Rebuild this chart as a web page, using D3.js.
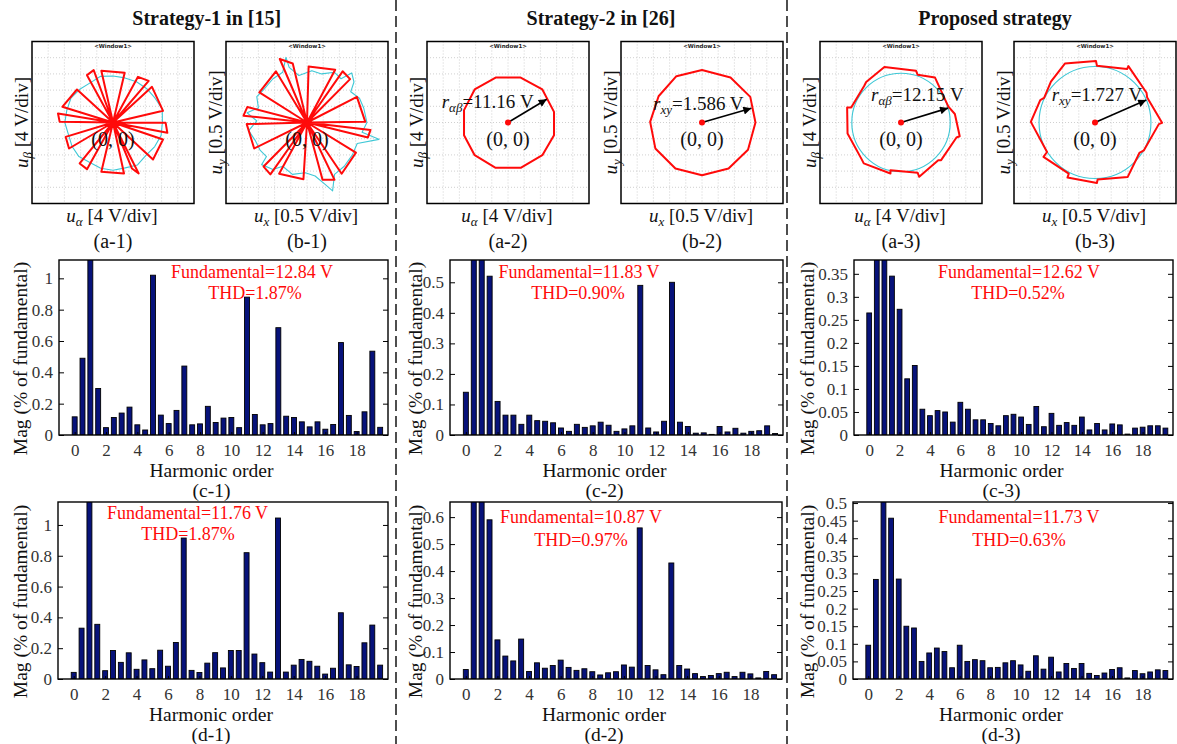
<!DOCTYPE html>
<html>
<head>
<meta charset="utf-8">
<script src="https://cdn.jsdelivr.net/npm/d3@7"></script>
<style>
  body { margin: 0; background: #fff; }
  svg text { font-family: "Liberation Serif", "Times New Roman", Times, serif; }
</style>
</head>
<body>
<svg id="fig" width="1177" height="744"></svg>
<script>
// ---------------- data ----------------
const strategyTitles = ["Strategy-1 in [15]", "Strategy-2 in [26]", "Proposed strategy"];

// harmonic spectra (% of fundamental), orders 0..19.5 in steps of 0.5
const orders = [0,0.5,1,1.5,2,2.5,3,3.5,4,4.5,5,5.5,6,6.5,7,7.5,8,8.5,9,9.5,
                10,10.5,11,11.5,12,12.5,13,13.5,14,14.5,15,15.5,16,16.5,17,17.5,18,18.5,19,19.5];
const xTicks = [0,2,4,6,8,10,12,14,16,18];

const magC1 = [0.116,0.49,100,0.297,0.047,0.112,0.14,0.178,0.065,0.032,1.02,0.127,0.073,0.157,0.44,0.065,0.071,0.183,0.08,0.108,
               0.112,0.047,0.88,0.131,0.065,0.073,0.685,0.12,0.112,0.084,0.052,0.084,0.037,0.067,0.59,0.125,0.022,0.148,0.535,0.049];
const magC2 = [0.14,0.62,100,0.52,0.11,0.065,0.065,0.035,0.065,0.047,0.045,0.04,0.023,0.012,0.035,0.025,0.03,0.042,0.032,0.012,
               0.02,0.03,0.49,0.023,0.01,0.045,0.5,0.042,0.028,0.006,0.007,0.002,0.028,0.01,0.022,0.006,0.012,0.014,0.03,0.005];
const magC3 = [0.265,0.42,100,0.345,0.273,0.122,0.151,0.056,0.042,0.053,0.05,0.028,0.071,0.056,0.033,0.033,0.025,0.02,0.042,0.045,
               0.039,0.023,0.062,0.018,0.047,0.021,0.027,0.021,0.039,0.011,0.025,0.011,0.024,0.022,0.002,0.015,0.017,0.02,0.02,0.015];
const magD1 = [0.043,0.33,100,0.355,0.054,0.185,0.108,0.17,0.063,0.124,0.067,0.187,0.083,0.237,0.915,0.056,0.042,0.103,0.171,0.072,
               0.185,0.185,0.82,0.162,0.106,0.045,1.045,0.045,0.09,0.127,0.115,0.083,0.032,0.07,0.43,0.092,0.081,0.235,0.35,0.09];
const magD2 = [0.035,0.7,100,0.59,0.145,0.085,0.067,0.148,0.028,0.06,0.04,0.05,0.07,0.043,0.032,0.038,0.027,0.015,0.023,0.027,
               0.052,0.044,0.56,0.05,0.034,0.016,0.43,0.05,0.037,0.02,0.009,0.013,0.02,0.025,0.009,0.025,0.019,0.004,0.028,0.016];
const magD3 = [0.096,0.283,100,0.457,0.284,0.15,0.145,0.05,0.074,0.088,0.078,0.032,0.096,0.05,0.055,0.052,0.032,0.033,0.046,0.052,
               0.04,0.022,0.066,0.028,0.062,0.02,0.044,0.03,0.044,0.016,0.01,0.017,0.027,0.032,0.003,0.024,0.015,0.02,0.026,0.024];

const yTicksC1 = [0,0.2,0.4,0.6,0.8,1];
const yTicksC2 = [0,0.1,0.2,0.3,0.4,0.5];
const yTicksC3 = [0,0.05,0.1,0.15,0.2,0.25,0.3,0.35];
const yTicksD1 = [0,0.2,0.4,0.6,0.8,1];
const yTicksD2 = [0,0.1,0.2,0.3,0.4,0.5,0.6];
const yTicksD3 = [0,0.05,0.1,0.15,0.2,0.25,0.3,0.35,0.4,0.45,0.5];
const yMaxC = [1.117, 0.573, 0.38];
const yMaxD = [1.149, 0.656, 0.503];

const fundamentalC = ["Fundamental=12.84 V", "Fundamental=11.83 V", "Fundamental=12.62 V"];
const thdC = ["THD=1.87%", "THD=0.90%", "THD=0.52%"];
const fundamentalD = ["Fundamental=11.76 V", "Fundamental=10.87 V", "Fundamental=11.73 V"];
const thdD = ["THD=1.87%", "THD=0.97%", "THD=0.63%"];

// voltage trajectories (V): wedges are [x1, y1, x2, y2] reached from the origin
const wedgesA1 = [
  [-2.88,12.76, 2.88,12.26], [-6.42,11.69, -4.77,12.92], [6.17,11.28, 8.81,10.29],
  [9.63,8.81, 12.35,2.88], [13.0,-0.08, 13.42,-2.55], [12.35,-4.2, 9.88,-9.14],
  [4.69,-11.36, 6.34,-12.59], [2.72,-12.59, -2.88,-12.18], [-6.42,-11.52, -8.23,-10.12],
  [-11.69,-3.54, -10.86,-6.42], [-13.58,2.22, -13.17,0.16], [-12.51,3.87, -8.89,8.15]
];
// [angle (deg), radius (V)]
const cyanA1 = [[0,12.2],[15,12.6],[30,12.0],[45,11.8],[60,11.6],[75,11.4],[90,11.5],[105,11.8],
                [120,11.3],[135,11.6],[150,12.0],[165,11.8],[180,11.9],[195,11.4],[210,11.7],[225,11.9],
                [240,11.4],[255,11.7],[270,11.8],[285,11.6],[300,12.1],[315,11.5],[330,11.9],[345,12.3]];
const wedgesB1 = [
  [-0.84,1.96, -0.44,1.82], [0.05,1.73, 0.87,1.63], [1.10,1.58, 1.33,1.34],
  [-1.47,0.93, -0.96,1.58], [1.54,0.79, 1.80,0.02], [-1.96,0.21, -1.84,0.48],
  [-1.86,-0.05, -1.63,-0.80], [1.96,-0.23, 1.88,-0.46], [1.51,-0.93, 1.07,-1.58],
  [0.48,-1.77, 0.85,-1.77], [-0.86,-1.58, -0.11,-1.75], [-1.34,-1.36, -1.13,-1.60]
];
const cyanB1 = [[1.85,0.0],[1.75,0.45],[1.62,0.75],[1.35,0.95],[1.45,1.25],[1.38,1.53],[1.05,1.35],[0.85,1.55],
                [0.45,1.50],[0.15,1.60],[-0.25,1.45],[-0.55,1.70],[-0.65,2.01],[-0.75,1.55],[-1.05,1.35],[-1.35,1.0],
                [-1.55,0.80],[-1.50,0.45],[-1.85,0.30],[-1.55,0.05],[-1.80,-0.25],[-1.60,-0.55],[-1.45,-0.85],[-1.25,-1.05],
                [-1.40,-1.30],[-1.05,-1.45],[-0.75,-1.35],[-0.45,-1.60],[-0.05,-1.55],[0.25,-1.65],[0.55,-1.90],[0.79,-2.11],
                [0.85,-1.60],[1.15,-1.35],[1.40,-1.00],[1.55,-0.65],[2.22,-0.52],[1.70,-0.30]];
const polyA2 = [[-3.05,11.1],[3.13,11.1],[8.48,8.15],[11.36,2.63],[11.36,-3.13],[8.48,-8.07],
                [3.13,-11.2],[-3.05,-11.2],[-8.23,-8.07],[-10.86,-3.13],[-10.86,3.05],[-8.23,8.15]];
const polyB2 = [[0,1.62],[-0.79,1.43],[-1.34,0.81],[-1.60,0.02],[-1.44,-0.80],[-0.82,-1.42],
                [0,-1.63],[0.82,-1.42],[1.42,-0.84],[1.65,0],[1.49,0.79],[0.88,1.39]];
const polyA3 = [[-4.1,13.7],[3.7,12.8],[4.1,11.8],[8.4,11.1],[11.7,3.9],[13.3,2.1],[14.5,-3.4],[13.7,-3.7],
                [9.9,-9.3],[9.2,-9.3],[4.5,-13.4],[4.1,-12.4],[-2.6,-11.8],[-2.6,-12.6],[-9.2,-10.1],[-9.7,-9.1],
                [-13.2,-2.7],[-13.3,3.7],[-12.3,3.7],[-9.1,9.0],[-8.6,10.0]];
const polyB3 = [[-0.93,1.82],[0.03,1.90],[0.06,1.75],[0.99,1.65],[1.03,1.74],[1.59,0.92],[1.61,0.77],[2.07,-0.01],
                [1.97,-0.05],[1.51,-0.86],[1.37,-0.94],[1.01,-1.68],[0.08,-1.76],[0.06,-1.87],[-0.85,-1.70],[-0.81,-1.58],
                [-1.59,-1.06],[-1.48,-0.91],[-1.98,0.02],[-1.69,0.69],[-1.57,0.76],[-1.36,1.26]];

// circle radii stated on the plots and the direction of each radius arrow
const radiusValues = [11.16, 1.586, 12.15, 1.727];
const radiusNames = ["αβ", "xy", "αβ", "xy"];
const arrowAngles = [31, 16, 17, 23.6];

const gridA = [-16,-12,-8,-4,0,4,8,12,16];
const gridB = [-2,-1.5,-1,-0.5,0,0.5,1,1.5,2];

// ---------------- drawing ----------------
const svg = d3.select("#fig");
const defs = svg.append("defs");
defs.append("marker").attr("id", "arrowhead")
  .attr("viewBox", "0 0 10 10").attr("refX", 10).attr("refY", 5)
  .attr("markerWidth", 11).attr("markerHeight", 8).attr("markerUnits", "userSpaceOnUse")
  .attr("orient", "auto")
  .append("path").attr("d", "M0,0 L10,5 L0,10 z").attr("fill", "#000");

const RED = "#ff0a0a", CYAN = "#3fc8d6", BAR_FILL = "#07127a", INK = "#111";

// column separators
[396, 787].forEach(x => svg.append("line")
  .attr("x1", x).attr("x2", x).attr("y1", 0).attr("y2", 744)
  .attr("stroke", "#222").attr("stroke-width", 1.6).attr("stroke-dasharray", "11,5"));

// column titles
[206.7, 601, 995].forEach((cx, i) => svg.append("text")
  .attr("x", cx).attr("y", 25).attr("text-anchor", "middle")
  .attr("font-size", 20).attr("font-weight", "bold").attr("fill", INK)
  .text(strategyTitles[i]));

function addRich(sel, parts) {
  parts.forEach(p => {
    const t = sel.append("tspan").text(p.t);
    if (p.i) t.attr("font-style", "italic");
    if (p.s) t.attr("font-size", p.s);
    if (p.dy) t.attr("dy", p.dy);
  });
}

// ---- trajectory panels ----
const SIZE = 162, PY0 = 41.5;
const polarPanels = [
  { x0: 32,   span: 20,  grid: gridA, sub: ["α","β"], div: "4",   cap: "(a-1)" },
  { x0: 226,  span: 2.5, grid: gridB, sub: ["x","y"], div: "0.5", cap: "(b-1)" },
  { x0: 427,  span: 20,  grid: gridA, sub: ["α","β"], div: "4",   cap: "(a-2)", k: 0, tx: 14.7, ty: 108 },
  { x0: 621,  span: 2.5, grid: gridB, sub: ["x","y"], div: "0.5", cap: "(b-2)", k: 1, tx: 32,   ty: 110 },
  { x0: 820,  span: 20,  grid: gridA, sub: ["α","β"], div: "4",   cap: "(a-3)", k: 2, tx: 51,   ty: 101 },
  { x0: 1014, span: 2.5, grid: gridB, sub: ["x","y"], div: "0.5", cap: "(b-3)", k: 3, tx: 37.7, ty: 101 }
];
const trajLine = d3.line();

polarPanels.forEach((p, idx) => {
  const g = svg.append("g");
  const sx = d3.scaleLinear().domain([-p.span, p.span]).range([p.x0, p.x0 + SIZE]);
  const sy = d3.scaleLinear().domain([-p.span, p.span]).range([PY0 + SIZE, PY0]);
  const pt = d => [sx(d[0]), sy(d[1])];
  const cx = sx(0), cy = sy(0);

  g.append("rect").attr("x", p.x0).attr("y", PY0).attr("width", SIZE).attr("height", SIZE).attr("fill", "#fff");
  g.selectAll("line.gv").data(p.grid).join("line")
    .attr("x1", d => sx(d)).attr("x2", d => sx(d)).attr("y1", PY0).attr("y2", PY0 + SIZE)
    .attr("stroke", "#c4c4c4").attr("stroke-width", 0.8).attr("stroke-dasharray", "1,2");
  g.selectAll("line.gh").data(p.grid).join("line")
    .attr("y1", d => sy(d)).attr("y2", d => sy(d)).attr("x1", p.x0).attr("x2", p.x0 + SIZE)
    .attr("stroke", "#c4c4c4").attr("stroke-width", 0.8).attr("stroke-dasharray", "1,2");
  g.append("text").attr("x", cx).attr("y", PY0 + 6.5).attr("text-anchor", "middle")
    .attr("font-size", 5.5).attr("font-weight", "bold").style("font-family", "DejaVu Sans, sans-serif")
    .attr("fill", "#222").text("<Window1>");

  const redStyle = s => s.attr("fill", "none").attr("stroke", RED).attr("stroke-width", 2).attr("stroke-linejoin", "round");
  const cyanStyle = s => s.attr("fill", "none").attr("stroke", CYAN).attr("stroke-width", 1.1).attr("stroke-linejoin", "round");

  if (idx === 0 || idx === 1) {
    const cyanPts = idx === 0
      ? cyanA1.map(([a, r]) => [r * Math.cos(a * Math.PI / 180), r * Math.sin(a * Math.PI / 180)])
      : cyanB1;
    g.append("path").attr("d", trajLine(cyanPts.map(pt)) + "Z").call(cyanStyle);
    const wedges = idx === 0 ? wedgesA1 : wedgesB1;
    const seq = [];
    wedges.forEach(w => { seq.push([0, 0], [w[0], w[1]], [w[2], w[3]]); });
    seq.push([0, 0]);
    g.append("path").attr("d", trajLine(seq.map(pt))).call(redStyle);
    g.append("text").attr("x", cx).attr("y", cy + 23).attr("text-anchor", "middle")
      .attr("font-size", 20).attr("fill", INK).text("(0, 0)");
  } else {
    const poly = [polyA2, polyB2, polyA3, polyB3][p.k];
    const r = radiusValues[p.k];
    if (p.k >= 2) {
      g.append("circle").attr("cx", cx).attr("cy", cy).attr("r", sx(r) - sx(0)).call(cyanStyle);
    }
    g.append("path").attr("d", trajLine(poly.map(pt)) + "Z").call(redStyle);
    const a = arrowAngles[p.k] * Math.PI / 180;
    g.append("line").attr("x1", cx).attr("y1", cy)
      .attr("x2", sx(r * Math.cos(a))).attr("y2", sy(r * Math.sin(a)))
      .attr("stroke", "#000").attr("stroke-width", 1.6).attr("marker-end", "url(#arrowhead)");
    g.append("circle").attr("cx", cx).attr("cy", cy).attr("r", 3).attr("fill", RED);
    const t = g.append("text").attr("x", p.x0 + p.tx).attr("y", p.ty).attr("font-size", 19).attr("fill", INK);
    addRich(t, [{ t: "r", i: 1 }, { t: radiusNames[p.k], i: 1, s: 13, dy: 4 }, { t: "=" + r + " V", dy: -4 }]);
    g.append("text").attr("x", cx).attr("y", cy + 23).attr("text-anchor", "middle")
      .attr("font-size", 20).attr("fill", INK).text("(0, 0)");
  }

  g.append("rect").attr("x", p.x0).attr("y", PY0).attr("width", SIZE).attr("height", SIZE)
    .attr("fill", "none").attr("stroke", "#000").attr("stroke-width", 1.5);

  const xl = svg.append("text").attr("x", cx - 1).attr("y", 222).attr("text-anchor", "middle")
    .attr("font-size", 19).attr("fill", INK);
  addRich(xl, [{ t: "u", i: 1 }, { t: p.sub[0], i: 1, s: 13, dy: 4 }, { t: " [" + p.div + " V/div]", dy: -4 }]);
  const yl = svg.append("text").attr("transform", `translate(${p.x0 - 11},${cy}) rotate(-90)`)
    .attr("text-anchor", "middle").attr("dy", "0.35em").attr("font-size", 19).attr("fill", INK);
  addRich(yl, [{ t: "u", i: 1 }, { t: p.sub[1], i: 1, s: 13, dy: 4 }, { t: " [" + p.div + " V/div]", dy: -4 }]);
  svg.append("text").attr("x", cx).attr("y", 248).attr("text-anchor", "middle")
    .attr("font-size", 20).attr("fill", INK).text(p.cap);
});

// ---- harmonic spectrum panels ----
const barPanels = [
  { x0: 59,  x1: 388,  y0: 260, y1: 435, ylx: 20,    vals: magC1, ticks: yTicksC1, ymax: yMaxC[0], f: fundamentalC[0], thd: thdC[0], fx: 252,  tx: 255,  fy: 278, ty: 299, cap: "(c-1)" },
  { x0: 450, x1: 783,  y0: 260, y1: 435, ylx: 415,   vals: magC2, ticks: yTicksC2, ymax: yMaxC[1], f: fundamentalC[1], thd: thdC[1], fx: 579,  tx: 578,  fy: 278, ty: 299, cap: "(c-2)" },
  { x0: 854, x1: 1173, y0: 260, y1: 435, ylx: 806.7, vals: magC3, ticks: yTicksC3, ymax: yMaxC[2], f: fundamentalC[2], thd: thdC[2], fx: 1019, tx: 1018, fy: 278, ty: 299, cap: "(c-3)" },
  { x0: 58,  x1: 388,  y0: 502, y1: 679, ylx: 20,    vals: magD1, ticks: yTicksD1, ymax: yMaxD[0], f: fundamentalD[0], thd: thdD[0], fx: 187.5, tx: 188, fy: 519, ty: 540, cap: "(d-1)" },
  { x0: 450, x1: 782,  y0: 502, y1: 679, ylx: 415,   vals: magD2, ticks: yTicksD2, ymax: yMaxD[1], f: fundamentalD[1], thd: thdD[1], fx: 581,  tx: 581,  fy: 523, ty: 546, cap: "(d-2)" },
  { x0: 853, x1: 1173, y0: 502, y1: 679, ylx: 807,   vals: magD3, ticks: yTicksD3, ymax: yMaxD[2], f: fundamentalD[2], thd: thdD[2], fx: 1019, tx: 1019, fy: 523, ty: 546, cap: "(d-3)" }
];
const fmt = d => String(d);

barPanels.forEach((p, i) => {
  const g = svg.append("g");
  const x = d3.scaleLinear().domain([-1, 20]).range([p.x0, p.x1]);
  const y = d3.scaleLinear().domain([0, p.ymax]).range([p.y1, p.y0]);
  const clipId = "plotclip" + i;
  defs.append("clipPath").attr("id", clipId).append("rect")
    .attr("x", p.x0).attr("y", p.y0).attr("width", p.x1 - p.x0).attr("height", p.y1 - p.y0);

  const bw = (x(0.5) - x(0)) * 0.63;
  g.append("g").attr("clip-path", `url(#${clipId})`)
    .selectAll("rect").data(orders.map((o, k) => ({ o, v: p.vals[k] }))).join("rect")
    .attr("x", d => x(d.o) - bw / 2).attr("y", d => y(d.v))
    .attr("width", bw).attr("height", d => y(0) - y(d.v))
    .attr("fill", BAR_FILL).attr("stroke", "#000").attr("stroke-width", 0.9);

  const styleAxis = a => {
    a.select(".domain").remove();
    a.selectAll("line").attr("stroke", "#000").attr("stroke-width", 1);
    a.selectAll("text").attr("font-size", 17).attr("fill", "#333")
      .attr("font-family", '"Liberation Serif", "Times New Roman", serif');
  };
  g.append("g").attr("transform", `translate(${p.x0},0)`)
    .call(d3.axisLeft(y).tickValues(p.ticks).tickSize(-5).tickPadding(6).tickFormat(fmt)).call(styleAxis);
  g.append("g").attr("transform", `translate(${p.x1},0)`)
    .call(d3.axisRight(y).tickValues(p.ticks).tickSize(-5).tickFormat("")).call(styleAxis);
  g.append("g").attr("transform", `translate(0,${p.y1})`)
    .call(d3.axisBottom(x).tickValues(xTicks).tickSize(-3).tickPadding(8.5).tickFormat(fmt)).call(styleAxis);

  g.append("rect").attr("x", p.x0).attr("y", p.y0).attr("width", p.x1 - p.x0).attr("height", p.y1 - p.y0)
    .attr("fill", "none").attr("stroke", "#000").attr("stroke-width", 1.4);

  g.append("text").attr("x", p.fx).attr("y", p.fy).attr("text-anchor", "middle")
    .attr("font-size", 18).attr("fill", RED).text(p.f);
  g.append("text").attr("x", p.tx).attr("y", p.ty).attr("text-anchor", "middle")
    .attr("font-size", 18).attr("fill", RED).text(p.thd);

  const midX = (p.x0 + p.x1) / 2 - 12;
  const midY = (p.y0 + p.y1) / 2 + 11;
  g.append("text").attr("transform", `translate(${p.ylx},${midY}) rotate(-90)`)
    .attr("text-anchor", "middle").attr("dy", "0.35em").attr("font-size", 19.5).attr("fill", INK)
    .text("Mag (% of fundamental)");
  g.append("text").attr("x", midX).attr("y", p.y1 + 41.5).attr("text-anchor", "middle")
    .attr("font-size", 19.5).attr("fill", INK).text("Harmonic order");
  g.append("text").attr("x", midX).attr("y", p.y1 + 62).attr("text-anchor", "middle")
    .attr("font-size", 19.5).attr("fill", INK).text(p.cap);
});
</script>
</body>
</html>
